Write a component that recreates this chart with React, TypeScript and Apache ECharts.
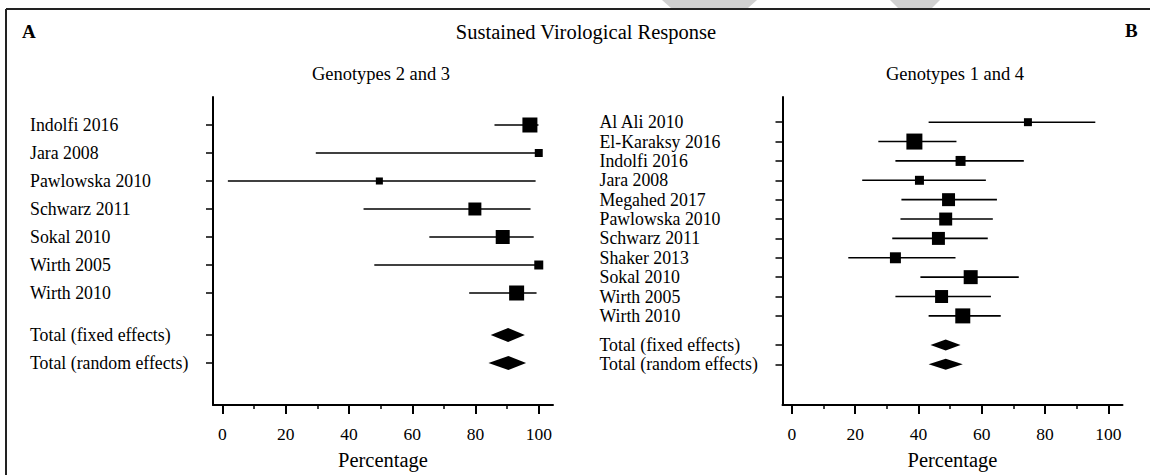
import React, { useEffect, useRef } from "react";
import * as echarts from "echarts";

// ---------- Data ----------
const leftStudies = ["Indolfi 2016", "Jara 2008", "Pawlowska 2010", "Schwarz 2011", "Sokal 2010", "Wirth 2005", "Wirth 2010"];
const leftEst = [97.2, 100, 49.6, 79.8, 88.6, 100, 93.0];
const leftLow = [86.0, 29.5, 1.7, 44.6, 65.4, 48.0, 78.0];
const leftHigh = [99.9, 100, 99.0, 97.4, 98.4, 100, 99.3];
const leftWeight = [22.3, 6.3, 4.9, 16.7, 19.4, 8.0, 22.3];

const leftTotals = ["Total (fixed effects)", "Total (random effects)"];
const leftTotalEst = [90.3, 90.4];
const leftTotalLow = [84.8, 84.1];
const leftTotalHigh = [95.6, 96.0];

const rightStudies = ["Al Ali 2010", "El-Karaksy 2016", "Indolfi 2016", "Jara 2008", "Megahed 2017", "Pawlowska 2010", "Schwarz 2011", "Shaker 2013", "Sokal 2010", "Wirth 2005", "Wirth 2010"];
const rightEst = [74.6, 38.7, 53.3, 40.3, 49.5, 48.6, 46.3, 32.7, 56.5, 47.3, 54.0];
const rightLow = [43.2, 27.3, 32.7, 22.2, 34.6, 34.3, 31.7, 17.8, 40.6, 32.7, 43.2];
const rightHigh = [95.9, 52.0, 73.3, 61.3, 64.8, 63.5, 61.9, 51.7, 71.7, 62.9, 66.0];
const rightWeight = [3.7, 14.9, 5.8, 4.7, 9.8, 9.8, 9.8, 7.0, 11.4, 9.8, 13.1];

const rightTotals = ["Total (fixed effects)", "Total (random effects)"];
const rightTotalEst = [48.6, 48.6];
const rightTotalLow = [43.8, 43.2];
const rightTotalHigh = [53.3, 54.0];

const xTickLabels = [0, 20, 40, 60, 80, 100];
const xMinorTicks = [10, 30, 50, 70, 90];

const FONT = "Liberation Serif";

function rowPositions(nStudies: number, nTotals: number) {
  const pos: number[] = [];
  for (let i = 0; i < nStudies; i++) pos.push(i);
  for (let j = 0; j < nTotals; j++) pos.push(nStudies + 0.5 + j);
  return pos;
}

function buildPanel(
  idx: number,
  studies: string[],
  est: number[],
  low: number[],
  high: number[],
  weight: number[],
  totals: string[],
  tEst: number[],
  tLow: number[],
  tHigh: number[],
  maxSize: number,
  diamondH: number,
  yMin: number,
  yMax: number,
  labelSize: number
) {
  const rows = rowPositions(studies.length, totals.length);
  const names = [...studies, ...totals];
  const maxW = Math.max(...weight);
  const xAxes = [
    {
      gridIndex: idx,
      type: "value",
      min: -3,
      max: 104.5,
      position: "bottom",
      axisLine: { show: true, onZero: false, lineStyle: { color: "#000", width: 2 } },
      axisTick: { show: true, customValues: xTickLabels, length: 9, lineStyle: { color: "#000", width: 2 } },
      axisLabel: { customValues: xTickLabels, margin: 20, fontFamily: FONT, fontSize: 17.5, color: "#000" },
      splitLine: { show: false },
      name: "Percentage",
      nameLocation: "middle",
      nameGap: 44,
      nameTextStyle: { fontFamily: FONT, fontSize: 20.5, color: "#000" },
    },
    {
      gridIndex: idx,
      type: "value",
      min: -3,
      max: 104.5,
      position: "bottom",
      axisLine: { show: false, onZero: false },
      axisTick: { show: true, customValues: xMinorTicks, length: 4, lineStyle: { color: "#000", width: 1.5 } },
      axisLabel: { show: false },
      splitLine: { show: false },
    },
  ];
  const yAxes = [
    {
      gridIndex: idx,
      type: "value",
      inverse: true,
      min: yMin,
      max: yMax,
      position: "left",
      axisLine: { show: true, onZero: false, lineStyle: { color: "#000", width: 2 } },
      axisTick: { show: true, customValues: rows, length: 7, lineStyle: { color: "#000", width: 1.5 } },
      axisLabel: {
        customValues: rows,
        margin: 183,
        align: "left",
        fontFamily: FONT,
        fontSize: labelSize,
        color: "#000",
        formatter: (v: number) => {
          const k = rows.findIndex((r) => Math.abs(r - v) < 1e-6);
          return k >= 0 ? names[k] : "";
        },
      },
      splitLine: { show: false },
    },
  ];
  const studyData = studies.map((_, i) => [low[i], high[i], est[i], rows[i], weight[i]]);
  const totalData = totals.map((_, j) => [tLow[j], tHigh[j], tEst[j], rows[studies.length + j]]);
  const xi = idx * 2;
  const series = [
    {
      type: "custom",
      xAxisIndex: xi,
      yAxisIndex: idx,
      data: studyData,
      encode: { x: [0, 1, 2], y: 3 },
      renderItem: (params: any, api: any) => {
        const y = api.value(3);
        const lo = api.coord([api.value(0), y]);
        const hi = api.coord([api.value(1), y]);
        const c = api.coord([api.value(2), y]);
        const s = maxSize * Math.sqrt(api.value(4) / maxW);
        return {
          type: "group",
          children: [
            { type: "line", shape: { x1: lo[0], y1: lo[1], x2: hi[0], y2: hi[1] }, style: { stroke: "#000", lineWidth: 1.6 } },
            { type: "rect", shape: { x: c[0] - s / 2, y: c[1] - s / 2, width: s, height: s }, style: { fill: "#000" } },
          ],
        };
      },
    },
    {
      type: "custom",
      xAxisIndex: xi,
      yAxisIndex: idx,
      data: totalData,
      encode: { x: [0, 1, 2], y: 3 },
      renderItem: (params: any, api: any) => {
        const y = api.value(3);
        const lo = api.coord([api.value(0), y]);
        const hi = api.coord([api.value(1), y]);
        const c = api.coord([api.value(2), y]);
        const h = diamondH / 2;
        return {
          type: "polygon",
          shape: { points: [[lo[0], lo[1]], [c[0], c[1] - h], [hi[0], hi[1]], [c[0], c[1] + h]] },
          style: { fill: "#000" },
        };
      },
    },
  ];
  return { xAxes, yAxes, series };
}

export default function App() {
  const ref = useRef<HTMLDivElement>(null);
  useEffect(() => {
    if (!ref.current) return;
    const chart = echarts.init(ref.current, undefined, { renderer: "svg" });
    const L = buildPanel(0, leftStudies, leftEst, leftLow, leftHigh, leftWeight, leftTotals, leftTotalEst, leftTotalLow, leftTotalHigh, 15, 14, -1, 10, 17.8);
    const R = buildPanel(1, rightStudies, rightEst, rightLow, rightHigh, rightWeight, rightTotals, rightTotalEst, rightTotalLow, rightTotalHigh, 16, 11, -1.3, 14.6, 17.8);
    chart.setOption({
      animation: false,
      backgroundColor: "#fff",
      grid: [
        { left: 213, top: 97, width: 340, height: 308, containLabel: false },
        { left: 782.5, top: 97, width: 340, height: 308, containLabel: false },
      ],
      xAxis: [...L.xAxes, ...R.xAxes],
      yAxis: [...L.yAxes, ...R.yAxes],
      series: [...L.series, ...R.series],
      graphic: [
        { type: "polygon", shape: { points: [[662, 0], [757, 0], [748, 8], [671, 8]] }, style: { fill: "#d0d0d0" }, silent: true },
        { type: "polygon", shape: { points: [[890, 0], [940, 0], [932, 8], [898, 8]] }, style: { fill: "#d0d0d0" }, silent: true },
        { type: "line", shape: { x1: 6, y1: 9, x2: 1150, y2: 9 }, style: { stroke: "#222", lineWidth: 2 } },
        { type: "line", shape: { x1: 6, y1: 9, x2: 6, y2: 475 }, style: { stroke: "#222", lineWidth: 2 } },
        { type: "text", x: 22, y: 31, style: { text: "A", font: `bold 19px ${FONT}`, fill: "#000", verticalAlign: "middle" } },
        { type: "text", x: 1125, y: 30, style: { text: "B", font: `bold 19px ${FONT}`, fill: "#000", verticalAlign: "middle" } },
        { type: "text", x: 586, y: 32, style: { text: "Sustained Virological Response", font: `20.5px ${FONT}`, fill: "#000", align: "center", verticalAlign: "middle" } },
        { type: "text", x: 381, y: 74, style: { text: "Genotypes 2 and 3", font: `18.5px ${FONT}`, fill: "#000", align: "center", verticalAlign: "middle" } },
        { type: "text", x: 955, y: 74, style: { text: "Genotypes 1 and 4", font: `18.5px ${FONT}`, fill: "#000", align: "center", verticalAlign: "middle" } },
      ],
    });
    return () => chart.dispose();
  }, []);
  return <div ref={ref} style={{ position: "absolute", left: 0, top: 0, width: 1150, height: 475, background: "#fff" }} />;
}
